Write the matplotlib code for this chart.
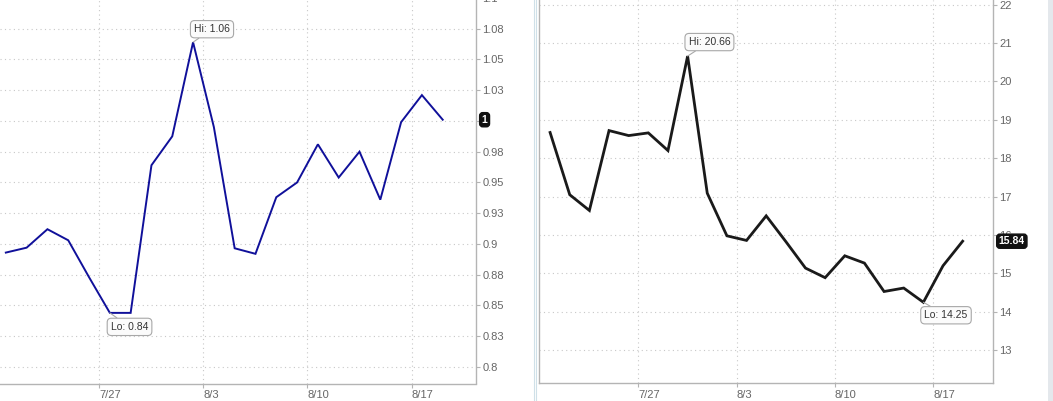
import numpy as np
import matplotlib
matplotlib.use('Agg')
import matplotlib.pyplot as plt
from matplotlib.lines import Line2D
from matplotlib.patches import Rectangle

plt.rcParams['font.family'] = ['Liberation Sans', 'DejaVu Sans']

# trading days 7/20 .. 8/18
dates = ['7/20', '7/21', '7/22', '7/23', '7/24',
         '7/27', '7/28', '7/29', '7/30', '7/31',
         '8/3', '8/4', '8/5', '8/6', '8/7',
         '8/10', '8/11', '8/12', '8/13', '8/14',
         '8/17', '8/18']
week_labels = ['7/27', '8/3', '8/10', '8/17']

left_vals = [0.893, 0.897, 0.912, 0.903, 0.873, 0.844, 0.844, 0.964, 0.9875, 1.064, 0.995,
             0.8965, 0.892, 0.938, 0.950, 0.981, 0.954, 0.975, 0.936, 0.999, 1.021, 1.001]
right_vals = [18.67, 17.05, 16.64, 18.72, 18.59, 18.66, 18.20, 20.66, 17.09, 15.98, 15.86,
              16.50, 15.83, 15.14, 14.89, 15.46, 15.27, 14.53, 14.62, 14.25, 15.20, 15.84]

left_yticks = [0.8, 0.825, 0.85, 0.875, 0.9, 0.925, 0.95, 0.975, 1.0, 1.025, 1.05, 1.075, 1.1]
# the "1" tick sits under the last-value tag
left_ylabels = ['0.8', '0.83', '0.85', '0.88', '0.9', '0.93', '0.95', '0.98', '',
                '1.03', '1.05', '1.08', '1.1']
right_yticks = [13, 14, 15, 16, 17, 18, 19, 20, 21, 22]
right_ylabels = [str(v) for v in right_yticks]

left_hi, left_lo, left_last = 'Hi: 1.06', 'Lo: 0.84', '1'
right_hi, right_lo, right_last = 'Hi: 20.66', 'Lo: 14.25', '15.84'

W, H = 1053, 401
fig = plt.figure(figsize=(W / 100, H / 100), dpi=100)
fig.patch.set_facecolor('white')

x = np.arange(len(dates))
week_pos = [dates.index(d) - 0.5 for d in week_labels]

GRID = '#c8c8c8'
SPINE = '#b4b4b4'
TXT = '#666666'


def px(l, b, r, t):
    # pixel box (top-down y) -> figure fraction
    return [l / W, (H - b) / H, (r - l) / W, (b - t) / H]


def style(ax, yticks, ylabels, xlim, ylim, left_spine):
    ax.set_xlim(*xlim)
    ax.set_ylim(*ylim)
    ax.set_facecolor('white')
    ax.spines['top'].set_visible(False)
    ax.spines['left'].set_visible(left_spine)
    for s in ['right', 'bottom', 'left']:
        ax.spines[s].set_color(SPINE)
        ax.spines[s].set_linewidth(1.0)
    ax.yaxis.tick_right()
    ax.set_yticks(yticks)
    ax.set_yticklabels(ylabels)
    ax.set_xticks(week_pos)
    ax.set_xticklabels(week_labels)
    ax.tick_params(axis='y', length=3, width=0.8, color=SPINE, pad=1.5,
                   labelsize=8, labelcolor=TXT)
    ax.tick_params(axis='x', length=3, width=0.8, color=SPINE, pad=2,
                   labelsize=8, labelcolor=TXT)
    plt.setp(ax.get_xticklabels(), ha='left')
    ax.grid(True, color=GRID, linestyle=(0, (1, 3)), linewidth=0.8)
    ax.set_axisbelow(True)


def tag(ax, xi, yv, text, dy):
    va = 'bottom' if dy > 0 else 'top'
    ax.annotate(text, xy=(xi, yv), xytext=(1, dy), textcoords='offset pixels',
                ha='left', va=va, fontsize=7.5, color='#333333', zorder=5,
                bbox=dict(boxstyle='round,pad=0.35,rounding_size=0.4', fc='#fbfbfb',
                          ec='#a8a8a8', lw=0.8),
                arrowprops=dict(arrowstyle='-', color='#a8a8a8', lw=0.8,
                                shrinkA=0, shrinkB=0))


def last_tag(ax, yv, text, dx):
    ax.text(1.0 + dx, yv, text, transform=ax.get_yaxis_transform(), ha='left', va='center',
            fontsize=7.5, color='white', fontweight='bold', zorder=6, clip_on=False,
            bbox=dict(boxstyle='round,pad=0.2,rounding_size=0.3', fc='#111111', ec='#111111'))


# left panel: 0.8 at y=367 px, 1230 px per unit
lax = fig.add_axes(px(0, 383.5, 476, -20))
style(lax, left_yticks, left_ylabels, (-0.28, 22.6),
      (0.7866, 1.0983 + 20 / 1230.3), False)
lax.plot(x, left_vals, color='#10109a', lw=1.4, zorder=4, solid_joinstyle='miter')
hi = int(np.argmax(left_vals))
lo = int(np.argmin(left_vals))
tag(lax, hi, left_vals[hi], left_hi, 8)
tag(lax, lo, left_vals[lo], left_lo, -9)
last_tag(lax, left_vals[-1], left_last, 0.012)

# right panel
rax = fig.add_axes(px(538.5, 383.3, 993.3, 0))
style(rax, right_yticks, right_ylabels, (-0.59, 22.56), (12.14, 22.12), True)
rax.plot(x, right_vals, color='#1a1a1a', lw=2.0, zorder=4, solid_joinstyle='miter')
hi = int(np.argmax(right_vals))
lo = int(np.argmin(right_vals))
tag(rax, hi, right_vals[hi], right_hi, 9)
tag(rax, lo, right_vals[lo], right_lo, -8)
last_tag(rax, right_vals[-1], right_last, 0.012)

# panel separator and right edge
for xp in [533.5, 536]:
    fig.add_artist(Line2D([xp / W, xp / W], [0, 1], color='#cfe0e8', lw=0.8))
fig.add_artist(Rectangle((1048 / W, 0), 5 / W, 1, color='#e4e8ec', lw=0))

fig.savefig('out.png', dpi=100, facecolor='white')
